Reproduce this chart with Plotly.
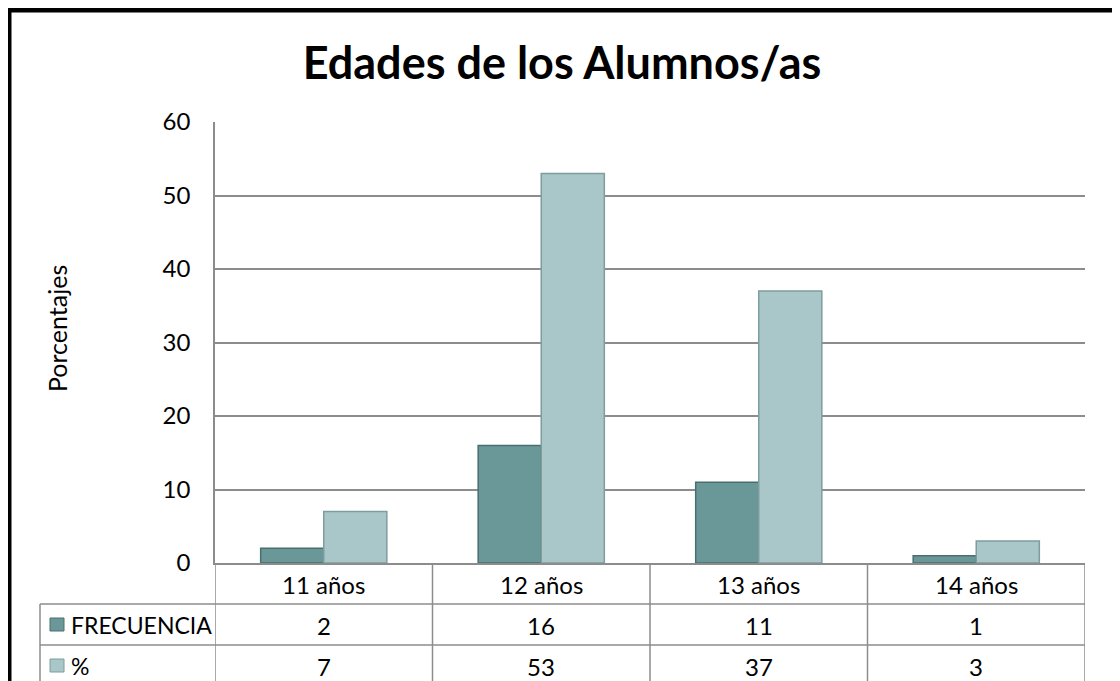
import plotly.graph_objects as go

categories = ["11 años", "12 años", "13 años", "14 años"]
series_names = ["FRECUENCIA", "%"]
frecuencia = [2, 16, 11, 1]
porcentaje = [7, 53, 37, 3]
y_ticks = [0, 10, 20, 30, 40, 50, 60]

# the page body adds an 8px offset, so the figure is 8px smaller than the window
OFF = 8
W, H = 1120 - OFF, 681 - OFF
L, R, T, B = 215 - OFF, 35, 122 - OFF, 118
PW, PH = W - L - R, H - T - B

COLORS = {"FRECUENCIA": "#6a9899", "%": "#a9c7c9"}
EDGE = {"FRECUENCIA": "#4a6e6f", "%": "#7e9d9f"}
GRID = "#8c8c8c"
FONT = "Lato"


def px_x(p):
    # page pixel -> paper x
    return (p - OFF - L) / PW


def px_y(p):
    # page pixel -> paper y
    return (H - B - (p - OFF)) / PH


fig = go.Figure()
for name, vals in zip(series_names, [frecuencia, porcentaje]):
    fig.add_trace(go.Bar(
        x=categories, y=vals, name=name,
        marker=dict(color=COLORS[name], line=dict(color=EDGE[name], width=1.5)),
        showlegend=False,
    ))

# data table under the axis
row_px = [563, 604, 645, 720]
shapes = []
line = dict(color=GRID, width=1.5)
n = len(categories)
for i in range(n + 1):
    shapes.append(dict(type="line", xref="x", yref="paper", x0=i - 0.5, x1=i - 0.5,
                       y0=px_y(row_px[0]), y1=px_y(row_px[-1]), line=line))
for r in row_px[1:3]:
    shapes.append(dict(type="line", xref="paper", yref="paper", x0=px_x(40), x1=1,
                       y0=px_y(r), y1=px_y(r), line=line))
shapes.append(dict(type="line", xref="paper", yref="paper", x0=px_x(40), x1=px_x(40),
                   y0=px_y(row_px[1]), y1=px_y(row_px[-1]), line=line))

cell_font = dict(size=24, color="#000", family=FONT)
annotations = []
for c in categories:
    annotations.append(dict(x=c, y=px_y(584), xref="x", yref="paper", yanchor="middle",
                            text=c, showarrow=False, font=cell_font))
row_centers = [625, 666]
for name, vals, yc_px in zip(series_names, [frecuencia, porcentaje], row_centers):
    yc = px_y(yc_px)
    for c, v in zip(categories, vals):
        annotations.append(dict(x=c, y=yc, xref="x", yref="paper", yanchor="middle",
                                text=str(v), showarrow=False, font=cell_font))
    annotations.append(dict(x=px_x(69), y=yc, xref="paper", yref="paper", text=name,
                            xanchor="left", yanchor="middle", showarrow=False,
                            font=dict(size=23, color="#000", family=FONT)))
    shapes.append(dict(type="rect", xref="paper", yref="paper",
                       x0=px_x(50), x1=px_x(64), y0=px_y(yc_px + 6), y1=px_y(yc_px - 7),
                       fillcolor=COLORS[name], line=dict(color=EDGE[name], width=1)))

# y axis title
annotations.append(dict(x=px_x(57), y=px_y(329), xref="paper", yref="paper",
                        xanchor="center", yanchor="middle",
                        text="Porcentajes", textangle=-90, showarrow=False,
                        font=dict(size=25, color="#000", family=FONT)))

# outer chart frame
shapes.append(dict(type="rect", xref="paper", yref="paper",
                   x0=px_x(9), x1=px_x(1140), y0=px_y(760), y1=px_y(10),
                   line=dict(color="#000", width=5), layer="above"))

fig.update_layout(
    width=W, height=H,
    margin=dict(l=L, r=R, t=T, b=B),
    paper_bgcolor="white", plot_bgcolor="white",
    barmode="group", bargap=0.42, bargroupgap=0,
    font=dict(family=FONT, color="#000"),
    title=dict(text="<b>Edades de los Alumnos/as</b>", xref="container",
               x=(562 - OFF) / W, xanchor="center", y=1 - (63 - OFF) / H, yanchor="middle",
               font=dict(size=45, family=FONT, color="#000")),
    xaxis=dict(showticklabels=False, showline=True, linecolor=GRID, linewidth=1.5,
               showgrid=False, range=[-0.5, n - 0.5]),
    yaxis=dict(range=[0, 60], tickvals=y_ticks, showgrid=True, gridcolor=GRID, gridwidth=1.5,
               showline=True, linecolor=GRID, linewidth=1.5, zeroline=False,
               ticklabelstandoff=18, tickfont=dict(size=24, color="#000")),
    shapes=shapes,
    annotations=annotations,
)

fig.write_html("out.html")
